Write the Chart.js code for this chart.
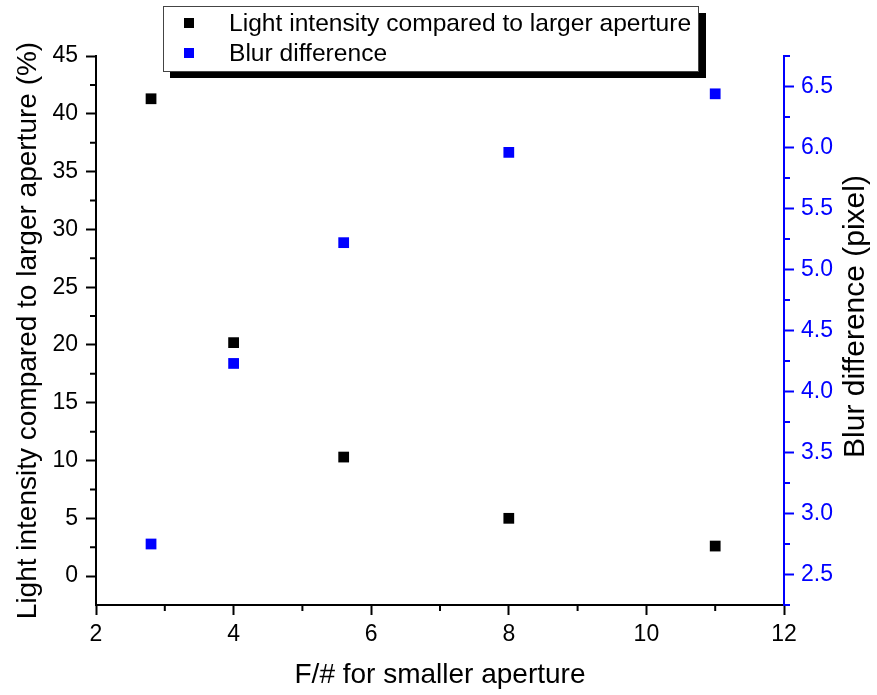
<!DOCTYPE html>
<html>
<head>
<meta charset="utf-8">
<script src="https://cdn.jsdelivr.net/npm/chart.js@4"></script>
<style>
  body { margin: 0; background: #fff; }
  #wrap { width: 877px; height: 695px; }
</style>
</head>
<body>
<div id="wrap"><canvas id="myChart" width="877" height="695"></canvas></div>
<script>
// values
const fNumbers = [2.8, 4, 5.6, 8, 11]
const lightIntensity = [41.3, 20.2, 10.3, 5.0, 2.6]
const blurDifference = [2.75, 4.23, 5.22, 5.96, 6.44]

// tick labels
const xTicks = [2, 4, 6, 8, 10, 12]
const lightTicks = [0, 5, 10, 15, 20, 25, 30, 35, 40, 45]
const blurTicks = [2.5, 3.0, 3.5, 4.0, 4.5, 5.0, 5.5, 6.0, 6.5]

const lightLabel = 'Light intensity compared to larger aperture'
const blurLabel = 'Blur difference'

const FONT = "'Liberation Sans', Arial, sans-serif"

const lightPoints = fNumbers.map((f, i) => ({x: f, y: lightIntensity[i]}))
const blurPoints = fNumbers.map((f, i) => ({x: f, y: blurDifference[i]}))

const setTicks = list => scale => { scale.ticks = list.map(v => ({value: v})) }

// minor ticks between the labelled ones
const minorTicks = {
    id: 'minorTicks',
    afterDraw(chart) {
        const ctx = chart.ctx
        const {x, y, y2} = chart.scales
        ctx.save()
        ctx.lineWidth = 2
        ctx.strokeStyle = '#000'
        ctx.beginPath()
        for (let v = 3; v <= 11; v += 2) {
            const px = x.getPixelForValue(v)
            ctx.moveTo(px, x.top)
            ctx.lineTo(px, x.top + 6)
        }
        for (let v = 2.5; v < 45; v += 5) {
            const py = y.getPixelForValue(v)
            ctx.moveTo(y.right, py)
            ctx.lineTo(y.right - 6, py)
        }
        ctx.stroke()
        ctx.strokeStyle = '#0000ff'
        ctx.beginPath()
        for (let v = 2.25; v <= 6.76; v += 0.5) {
            const py = y2.getPixelForValue(v)
            ctx.moveTo(y2.left, py)
            ctx.lineTo(y2.left + 6, py)
        }
        ctx.stroke()

        // right axis title reads bottom to top
        ctx.fillStyle = '#000'
        ctx.font = '30px ' + FONT
        ctx.textAlign = 'center'
        ctx.textBaseline = 'middle'
        ctx.translate(y2.right - 21, (y2.top + y2.bottom) / 2 - 14)
        ctx.rotate(-Math.PI / 2)
        ctx.fillText('Blur difference (pixel)', 0, 0)
        ctx.restore()
    }
}

// boxed legend with a drop shadow
const boxLegend = {
    id: 'boxLegend',
    afterDraw(chart) {
        const ctx = chart.ctx
        ctx.save()
        ctx.fillStyle = '#000'
        ctx.fillRect(170, 13, 536, 65)
        ctx.fillStyle = '#fff'
        ctx.fillRect(163, 6, 535, 65)
        ctx.strokeStyle = '#444'
        ctx.lineWidth = 1
        ctx.strokeRect(163.5, 6.5, 535, 65)
        ctx.font = '24.6px ' + FONT
        ctx.textBaseline = 'middle'
        chart.data.datasets.forEach((ds, i) => {
            const cy = 23 + i * 30
            ctx.fillStyle = ds.backgroundColor
            ctx.fillRect(184, cy - 5, 10, 10)
            ctx.fillStyle = '#000'
            ctx.fillText(ds.label, 229, cy + 1)
        })
        ctx.restore()
    }
}

const ctx = document.getElementById('myChart')

new Chart(ctx, {
    type: 'scatter',
    data: {
        datasets: [{
            label: lightLabel,
            data: lightPoints,
            yAxisID: 'y',
            backgroundColor: '#000000',
            borderColor: '#000000',
            pointStyle: 'rect',
            pointRadius: 7.6,
            borderWidth: 0
        }, {
            label: blurLabel,
            data: blurPoints,
            yAxisID: 'y2',
            backgroundColor: '#0000ff',
            borderColor: '#0000ff',
            pointStyle: 'rect',
            pointRadius: 7.6,
            borderWidth: 0
        }]
    },
    options: {
        responsive: false,
        animation: false,
        layout: { padding: { top: 56, left: 0, right: 0, bottom: 0 } },
        plugins: {
            legend: { display: false },
            tooltip: { enabled: false }
        },
        scales: {
            x: {
                type: 'linear',
                min: 2,
                max: 12,
                afterBuildTicks: setTicks(xTicks),
                afterFit: s => { s.height = 90 },
                border: { display: true, color: '#000', width: 2 },
                grid: { drawOnChartArea: false, drawTicks: true, tickLength: 10, tickWidth: 2, tickColor: '#000' },
                ticks: { padding: 6, color: '#000', font: { family: FONT, size: 23 } },
                title: { display: true, text: 'F/# for smaller aperture', color: '#000', font: { family: FONT, size: 28 }, padding: { top: 0, bottom: 3 } }
            },
            y: {
                type: 'linear',
                position: 'left',
                min: -2.5,
                max: 45,
                afterBuildTicks: setTicks(lightTicks),
                afterFit: s => { s.width = 96 },
                border: { display: true, color: '#000', width: 2 },
                grid: { drawOnChartArea: false, drawTicks: true, tickLength: 10, tickWidth: 2, tickColor: '#000' },
                ticks: { padding: 8, color: '#000', font: { family: FONT, size: 23 } },
                title: { display: true, text: 'Light intensity compared to larger aperture (%)', color: '#000', font: { family: FONT, size: 28 }, padding: { top: 11, bottom: 0 } }
            },
            y2: {
                type: 'linear',
                position: 'right',
                min: 2.25,
                max: 6.75,
                afterBuildTicks: setTicks(blurTicks),
                afterFit: s => { s.width = 93 },
                border: { display: true, color: '#0000ff', width: 2 },
                grid: { drawOnChartArea: false, drawTicks: true, tickLength: 10, tickWidth: 2, tickColor: '#0000ff' },
                ticks: { padding: 7, color: '#0000ff', font: { family: FONT, size: 23 },
                    callback: v => v.toFixed(1) }
            }
        }
    },
    plugins: [minorTicks, boxLegend]
})
</script>
</body>
</html>
